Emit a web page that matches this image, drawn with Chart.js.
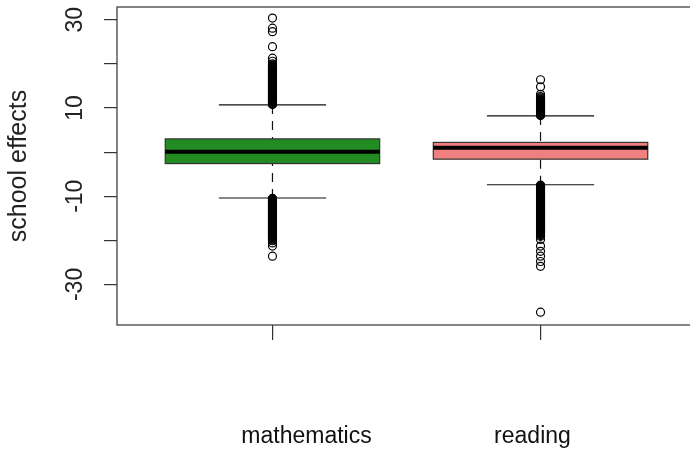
<!DOCTYPE html>
<html>
<head>
<meta charset="utf-8">
<script src="https://cdn.jsdelivr.net/npm/chart.js@4"></script>
<style>
  html, body { margin: 0; padding: 0; background: #fff; overflow: hidden; }
  #wrap { width: 710px; height: 456px; }
</style>
</head>
<body>
<div id="wrap"><canvas id="chart" width="710" height="456"></canvas></div>
<script>
// Groups and box statistics
const categories = ['mathematics', 'reading'];
const boxColors = ['#228B22', '#F08080'];
const lowerWhisker = [-10.4, -7.4];
const q1 = [-2.6, -1.6];
const median = [0.1, 1.0];
const q3 = [3.0, 2.2];
const upperWhisker = [10.7, 8.2];

// Outliers (dense runs just outside the whiskers, then sparse points)
const mathOutliers = [
  30.4, 28.1, 27.3, 23.9, 21.3, 20.6,
  20.0, 19.8, 19.6, 19.5, 19.3, 19.2, 19.1, 18.9, 18.8, 18.7, 18.5, 18.4,
  18.3, 18.2, 18.0, 17.9, 17.8, 17.6, 17.5, 17.4, 17.3, 17.1, 17.0, 16.9,
  16.7, 16.6, 16.5, 16.4, 16.2, 16.1, 16.0, 15.8, 15.7, 15.6, 15.5, 15.3,
  15.2, 15.1, 14.9, 14.8, 14.7, 14.6, 14.4, 14.3, 14.2, 14.0, 13.9, 13.8,
  13.7, 13.5, 13.4, 13.3, 13.2, 13.0, 12.9, 12.8, 12.6, 12.5, 12.4, 12.3,
  12.1, 12.0, 11.9, 11.8, 11.6, 11.5, 11.4, 11.3, 11.1, 11.0, 10.9, 10.8,
  -10.5, -10.6, -10.7, -10.9, -11.0, -11.1, -11.3, -11.4, -11.5, -11.6,
  -11.8, -11.9, -12.0, -12.2, -12.3, -12.4, -12.5, -12.7, -12.8, -12.9,
  -13.1, -13.2, -13.3, -13.4, -13.6, -13.7, -13.8, -14.0, -14.1, -14.2,
  -14.3, -14.5, -14.6, -14.7, -14.9, -15.0, -15.1, -15.2, -15.4, -15.5,
  -15.6, -15.8, -15.9, -16.0, -16.1, -16.3, -16.4, -16.5, -16.7, -16.8,
  -16.9, -17.0, -17.2, -17.3, -17.4, -17.6, -17.7, -17.8, -17.9, -18.1,
  -18.2, -18.3, -18.5, -18.6, -18.7, -18.8, -19.0, -19.1, -19.2, -19.4,
  -19.5, -19.7, -19.9, -20.1,
  -20.6, -21.3, -23.6
];
const readingOutliers = [
  16.4, 14.8, 13.1,
  12.6, 12.3, 12.1, 11.9, 11.8, 11.6, 11.5, 11.4, 11.2, 11.1, 11.0, 10.8,
  10.7, 10.6, 10.5, 10.3, 10.2, 10.1, 9.9, 9.8, 9.7, 9.6, 9.4, 9.3, 9.2,
  9.0, 8.9, 8.8, 8.7, 8.5, 8.4, 8.3,
  -7.5, -7.6, -7.7, -7.9, -8.0, -8.1, -8.3, -8.4, -8.5, -8.6, -8.8, -8.9,
  -9.0, -9.2, -9.3, -9.4, -9.5, -9.7, -9.8, -9.9, -10.1, -10.2, -10.3,
  -10.4, -10.6, -10.7, -10.8, -11.0, -11.1, -11.2, -11.3, -11.5, -11.6,
  -11.7, -11.9, -12.0, -12.1, -12.2, -12.4, -12.5, -12.6, -12.8, -12.9,
  -13.0, -13.1, -13.3, -13.4, -13.5, -13.7, -13.8, -13.9, -14.0, -14.2,
  -14.3, -14.4, -14.6, -14.7, -14.8, -14.9, -15.1, -15.2, -15.3, -15.5,
  -15.6, -15.7, -15.8, -16.0, -16.1, -16.2, -16.4, -16.5, -16.6, -16.7,
  -16.9, -17.0, -17.1, -17.3, -17.4, -17.5, -17.6, -17.8, -17.9, -18.0,
  -18.2, -18.3, -18.5, -18.7, -18.9, -19.1,
  -19.8, -21.3, -22.5, -23.6, -24.8, -25.9, -36.3
];

// Axis ticks
const yTicks = [30, 20, 10, 0, -10, -20, -30];
const yLabelValues = [30, 10, -10, -30];
const yTitle = 'school effects';

const FONT = "'Liberation Sans', Arial, sans-serif";

// Boxes, whiskers and medians drawn through the chart scales
const boxPlugin = {
  id: 'boxes',
  beforeDatasetsDraw(chart) {
    const { ctx, scales: { x, y } } = chart;
    const unit = x.getPixelForValue(2) - x.getPixelForValue(1);
    const halfBox = unit * 0.4;
    const halfCap = unit * 0.2;
    ctx.save();
    categories.forEach((c, i) => {
      const cx = x.getPixelForValue(i + 1);
      const pLw = y.getPixelForValue(lowerWhisker[i]);
      const pQ1 = y.getPixelForValue(q1[i]);
      const pMed = y.getPixelForValue(median[i]);
      const pQ3 = y.getPixelForValue(q3[i]);
      const pUw = y.getPixelForValue(upperWhisker[i]);

      // dashed whiskers
      ctx.strokeStyle = '#111';
      ctx.lineWidth = 1.2;
      ctx.setLineDash([9, 7]);
      ctx.beginPath();
      ctx.moveTo(cx, pUw); ctx.lineTo(cx, pQ3);
      ctx.moveTo(cx, pLw); ctx.lineTo(cx, pQ1);
      ctx.stroke();
      ctx.setLineDash([]);

      // caps
      ctx.beginPath();
      ctx.moveTo(cx - halfCap, pUw); ctx.lineTo(cx + halfCap, pUw);
      ctx.moveTo(cx - halfCap, pLw); ctx.lineTo(cx + halfCap, pLw);
      ctx.stroke();

      // box
      ctx.fillStyle = boxColors[i];
      ctx.fillRect(cx - halfBox, pQ3, halfBox * 2, pQ1 - pQ3);
      ctx.strokeStyle = '#333';
      ctx.lineWidth = 1.2;
      ctx.strokeRect(cx - halfBox, pQ3, halfBox * 2, pQ1 - pQ3);

      // median
      ctx.strokeStyle = '#000';
      ctx.lineWidth = 4;
      ctx.beginPath();
      ctx.moveTo(cx - halfBox, pMed); ctx.lineTo(cx + halfBox, pMed);
      ctx.stroke();
    });
    ctx.restore();
  },
  afterDraw(chart) {
    const { ctx, chartArea: a, scales: { x, y } } = chart;
    ctx.save();
    // plot frame
    ctx.strokeStyle = '#333';
    ctx.lineWidth = 1.2;
    ctx.strokeRect(a.left, a.top, a.right - a.left, a.bottom - a.top);
    // rotated y tick labels, R style
    ctx.fillStyle = '#222';
    ctx.font = '23px ' + FONT;
    ctx.textAlign = 'center';
    ctx.textBaseline = 'middle';
    yLabelValues.forEach(v => {
      ctx.save();
      ctx.translate(76, y.getPixelForValue(v));
      ctx.rotate(-Math.PI / 2);
      ctx.fillText(String(v), 0, 0);
      ctx.restore();
    });
    // group labels, placed as in the reference (slightly off the ticks)
    const labelShift = [0.127, -0.03];
    ctx.fillStyle = '#111';
    categories.forEach((c, i) => {
      ctx.fillText(c, x.getPixelForValue(i + 1 + labelShift[i]), 437);
    });
    ctx.restore();
  }
};

const outlierStyle = {
  pointRadius: 4,
  pointBorderWidth: 1.2,
  borderColor: '#000',
  backgroundColor: 'rgba(0,0,0,0)',
  showLine: false
};

new Chart(document.getElementById('chart').getContext('2d'), {
  type: 'scatter',
  data: {
    datasets: [
      { label: categories[0], data: mathOutliers.map(v => ({ x: 1, y: v })), ...outlierStyle },
      { label: categories[1], data: readingOutliers.map(v => ({ x: 2, y: v })), ...outlierStyle }
    ]
  },
  options: {
    responsive: false,
    animation: false,
    layout: { padding: { top: 7, right: 14, left: 0, bottom: 0 } },
    plugins: { legend: { display: false }, tooltip: { enabled: false } },
    scales: {
      x: {
        type: 'linear',
        min: 0.42,
        max: 2.58,
        afterBuildTicks: axis => { axis.ticks = categories.map((c, i) => ({ value: i + 1 })); },
        afterFit: axis => { axis.height = 131; },
        ticks: { display: false },
        grid: { drawOnChartArea: false, drawTicks: true, tickLength: 15, color: '#333', lineWidth: 1.2 },
        border: { display: false }
      },
      y: {
        min: -39.2,
        max: 32.9,
        afterBuildTicks: axis => { axis.ticks = yTicks.map(v => ({ value: v })); },
        afterFit: axis => { axis.width = 117; },
        ticks: { display: false },
        grid: { drawOnChartArea: false, drawTicks: true, tickLength: 13, color: '#333', lineWidth: 1.2 },
        border: { display: false },
        title: {
          display: true,
          text: yTitle,
          color: '#222',
          font: { family: FONT, size: 25 },
          padding: { top: 4, bottom: 0 }
        }
      }
    }
  },
  plugins: [boxPlugin]
});
</script>
</body>
</html>
